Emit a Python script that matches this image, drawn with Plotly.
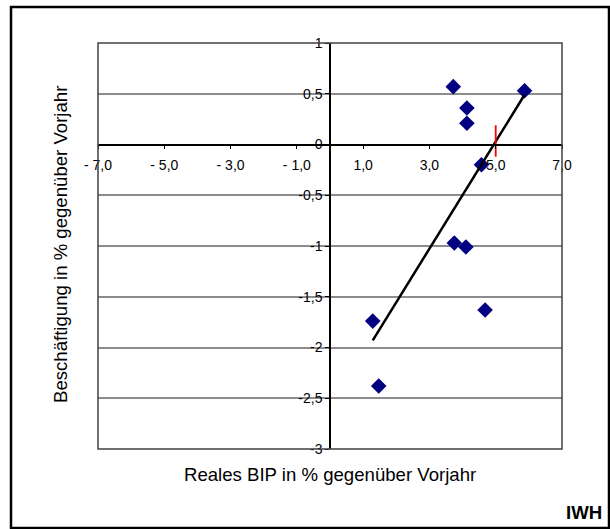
import plotly.graph_objects as go

# Data
bip = [3.72, 4.13, 4.13, 4.57, 5.87, 3.75, 4.10, 4.68, 1.29, 1.47]
beschaeftigung = [0.57, 0.36, 0.21, -0.20, 0.53, -0.97, -1.01, -1.63, -1.74, -2.38]
trend_x = [1.29, 5.87]
trend_y = [-1.93, 0.49]
schwelle_x = [5.0, 5.0]
schwelle_y = [0.19, -0.12]

x_ticks = [-7, -5, -3, -1, 1, 3, 5, 7]
x_ticktext = ["- 7,0", "- 5,0", "- 3,0", "- 1,0", "1,0", "3,0", "5,0", "7,0"]
y_ticks = [1, 0.5, 0, -0.5, -1, -1.5, -2, -2.5, -3]
y_ticktext = ["1", "0,5", "0", "-0,5", "-1", "-1,5", "-2", "-2,5", "-3"]

W, H = 610, 529
L, R, T, B = 98, 562, 43, 449
pw, ph = R - L, B - T

def px(x):
    return (x - L) / pw

def py(y):
    return (B - y) / ph

FONT = "Liberation Sans, Arial, sans-serif"

fig = go.Figure()
fig.add_trace(go.Scatter(
    x=bip, y=beschaeftigung, mode="markers",
    marker=dict(symbol="diamond", size=12, color="#000080"),
    showlegend=False, cliponaxis=False,
))
fig.add_trace(go.Scatter(
    x=trend_x, y=trend_y, mode="lines",
    line=dict(color="black", width=2.5), showlegend=False,
))
fig.add_trace(go.Scatter(
    x=schwelle_x, y=schwelle_y, mode="lines",
    line=dict(color="red", width=1.8), showlegend=False,
))

fig.update_layout(
    width=W, height=H,
    margin=dict(l=L, r=W - R, t=T, b=H - B, pad=0),
    paper_bgcolor="white", plot_bgcolor="white",
    font=dict(family=FONT, size=14, color="black"),
    xaxis=dict(
        range=[-7, 7], tickvals=x_ticks, ticktext=x_ticktext,
        anchor="free", position=0.75, showline=True, linecolor="black", linewidth=1.5,
        ticks="outside", ticklen=4, tickwidth=1, tickcolor="black",
        ticklabelstandoff=4,
        showgrid=False, zeroline=False, tickfont=dict(size=14),
    ),
    yaxis=dict(
        range=[-3, 1], tickvals=y_ticks, ticktext=y_ticktext,
        anchor="free", position=0.5, showline=True, linecolor="black", linewidth=1.5,
        ticks="outside", ticklen=4, tickwidth=1, tickcolor="black",
        showgrid=True, gridcolor="#8c8c8c", gridwidth=1.5, zeroline=False,
        tickfont=dict(size=14),
    ),
    shapes=[
        dict(type="rect", xref="paper", yref="paper", x0=0, x1=1, y0=0, y1=1,
             line=dict(color="#404040", width=1.5), layer="above"),
        dict(type="rect", xref="paper", yref="paper",
             x0=px(11), x1=px(609), y0=py(528), y1=py(7),
             line=dict(color="black", width=2.5)),
    ],
    annotations=[
        dict(text="Reales BIP in % gegenüber Vorjahr", xref="paper", yref="paper",
             x=px(330), y=py(474), xanchor="center", yanchor="middle",
             showarrow=False, font=dict(size=18.6)),
        dict(text="Beschäftigung in % gegenüber Vorjahr", xref="paper", yref="paper",
             x=px(61), y=py(245), xanchor="center", yanchor="middle", textangle=-90,
             showarrow=False, font=dict(size=18.6)),
        dict(text="<b>IWH</b>", xref="paper", yref="paper",
             x=px(604), y=py(512), xanchor="right", yanchor="middle",
             showarrow=False, font=dict(size=18.6)),
    ],
)

fig.write_html(
    "out.html",
    config={"displayModeBar": False},
    post_script="document.body.style.margin='0px';document.body.style.overflow='hidden';",
)
